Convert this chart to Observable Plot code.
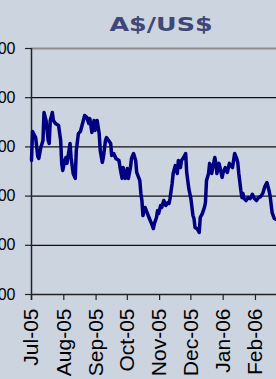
<!DOCTYPE html>
<html><head><meta charset="utf-8">
<script src="https://cdn.jsdelivr.net/npm/d3@7"></script>
<script src="https://cdn.jsdelivr.net/npm/@observablehq/plot@0.6"></script>
<style>
html,body{margin:0;padding:0;width:276px;height:379px;overflow:hidden;background:#ccd4e0;}
#title{position:absolute;top:15px;left:161px;transform:translateX(-50%) scaleX(1.27);font:bold 20px "DejaVu Sans",sans-serif;line-height:19px;color:#3f4779;white-space:nowrap;}
#chart{position:absolute;left:-40px;top:0;width:346px;height:379px;}
#chart svg{max-width:none !important;display:block;}
</style></head><body>
<div id="title">A$/US$</div>
<div id="chart"></div>
<script>
const dates = [
"2005-07-01","2005-07-02","2005-07-03","2005-07-05","2005-07-07","2005-07-08","2005-07-10","2005-07-12","2005-07-13","2005-07-15","2005-07-17","2005-07-18","2005-07-19","2005-07-21","2005-07-22","2005-07-24","2005-07-27","2005-07-29","2005-07-30","2005-07-31",
"2005-08-02","2005-08-03","2005-08-04","2005-08-06","2005-08-07","2005-08-08","2005-08-10","2005-08-12","2005-08-13","2005-08-15","2005-08-17","2005-08-18","2005-08-21","2005-08-23","2005-08-25","2005-08-26","2005-08-28","2005-08-30","2005-08-31",
"2005-09-02","2005-09-04","2005-09-05","2005-09-07","2005-09-08","2005-09-10","2005-09-11","2005-09-13","2005-09-15","2005-09-16","2005-09-18","2005-09-20","2005-09-23","2005-09-24","2005-09-26","2005-09-27","2005-09-29",
"2005-10-01","2005-10-02","2005-10-04","2005-10-05","2005-10-07","2005-10-09","2005-10-10","2005-10-13","2005-10-14","2005-10-15","2005-10-16","2005-10-18","2005-10-20","2005-10-21","2005-10-23","2005-10-25","2005-10-26","2005-10-27","2005-10-29","2005-10-30","2005-10-31",
"2005-11-02","2005-11-03","2005-11-05","2005-11-07","2005-11-09","2005-11-10","2005-11-11","2005-11-13","2005-11-14","2005-11-16","2005-11-18","2005-11-19","2005-11-21","2005-11-22","2005-11-24","2005-11-26","2005-11-27","2005-11-29",
"2005-12-01","2005-12-03","2005-12-04","2005-12-05","2005-12-07","2005-12-09","2005-12-10","2005-12-12","2005-12-14","2005-12-15","2005-12-16","2005-12-18","2005-12-19","2005-12-21","2005-12-22","2005-12-24","2005-12-25","2005-12-26","2005-12-28","2005-12-29","2005-12-31",
"2006-01-01","2006-01-03","2006-01-05","2006-01-07","2006-01-08","2006-01-10","2006-01-11","2006-01-12","2006-01-14","2006-01-15","2006-01-16","2006-01-18","2006-01-19","2006-01-20","2006-01-21","2006-01-23","2006-01-25","2006-01-27","2006-01-29","2006-01-31",
"2006-02-02","2006-02-04","2006-02-06","2006-02-08","2006-02-10","2006-02-12","2006-02-14","2006-02-15","2006-02-17","2006-02-19","2006-02-21","2006-02-23"
];
const rates = [
0.7545,0.7663,0.7654,0.7638,0.7561,0.7553,0.7598,0.7626,0.7740,0.7707,0.7626,0.7614,0.7707,0.7740,0.7707,0.7695,0.7687,0.7626,0.7533,0.7504,
0.7545,0.7557,0.7533,0.7585,0.7614,0.7557,0.7492,0.7472,0.7585,0.7654,0.7663,0.7679,0.7728,0.7720,0.7695,0.7715,0.7659,0.7707,0.7667,
0.7707,0.7654,0.7585,0.7537,0.7557,0.7626,0.7638,0.7626,0.7614,0.7565,0.7573,0.7553,0.7545,0.7516,0.7472,0.7516,0.7472,
0.7512,0.7472,0.7516,0.7553,0.7573,0.7545,0.7496,0.7463,0.7411,0.7382,0.7321,0.7354,0.7333,0.7321,0.7301,0.7280,0.7268,0.7289,0.7313,0.7341,0.7329,
0.7362,0.7354,0.7382,0.7362,0.7374,0.7370,0.7390,0.7451,0.7492,0.7524,0.7492,0.7545,0.7516,0.7545,0.7557,0.7573,0.7496,0.7431,
0.7390,0.7321,0.7309,0.7272,0.7268,0.7252,0.7313,0.7329,0.7354,0.7374,0.7463,0.7492,0.7533,0.7492,0.7516,0.7557,0.7533,0.7492,0.7533,0.7516,0.7476,
0.7496,0.7516,0.7496,0.7533,0.7524,0.7516,0.7545,0.7573,0.7553,0.7537,0.7492,0.7423,0.7394,0.7411,0.7390,0.7382,0.7394,0.7390,0.7407,0.7390,
0.7382,0.7394,0.7398,0.7411,0.7439,0.7455,0.7423,0.7402,0.7333,0.7309,0.7305,0.7301
];
const monthTicks = ["2005-07-01","2005-08-01","2005-09-01","2005-10-01","2005-11-01","2005-12-01","2006-01-01","2006-02-01"];
const monthLabels = ["Jul-05","Aug-05","Sep-05","Oct-05","Nov-05","Dec-05","Jan-06","Feb-06"];
const yTicks = [0.70,0.72,0.74,0.76,0.78,0.80];
const yLabels = ["0.7000","0.7200","0.7400","0.7600","0.7800","0.8000"];

const parse = d3.utcParse("%Y-%m-%d");
const data = dates.map((d, i) => ({date: parse(d), rate: rates[i]}));
const tickDates = monthTicks.map(parse);
const x0 = parse("2005-07-01");
const x1 = parse("2006-03-22");

const chart = Plot.plot({
  width: 346, height: 379,
  marginLeft: 71, marginRight: 0, marginTop: 48, marginBottom: 85,
  style: {background: "transparent", overflow: "visible", maxWidth: "none"},
  x: {type: "utc", domain: [x0, x1], axis: null},
  y: {domain: [0.70, 0.80], axis: null},
  marks: [
    Plot.ruleY(yTicks.slice(1, -1), {stroke: "#111", strokeWidth: 1.2}),
    Plot.ruleY([0.80], {stroke: "#8c8c8c", strokeWidth: 2}),
    Plot.ruleY([0.70], {stroke: "#222", strokeWidth: 1.5}),
    Plot.ruleX([0], {x: () => x0, y1: 0.80, y2: 0.70, stroke: "#222", strokeWidth: 1.5, insetBottom: -6}),
    Plot.ruleY(yTicks, {x1: () => x0, x2: () => x0, y: d => d, insetLeft: -6, stroke: "#222", strokeWidth: 1.2}),
    Plot.text(yTicks, {x: () => x0, y: d => d, text: (d, i) => yLabels[i], textAnchor: "end", dx: -16, fontSize: 16, fontFamily: "Liberation Sans", fill: "#000"}),
    Plot.ruleX(tickDates, {x: d => d, y1: 0.70, y2: 0.70, insetBottom: -6, stroke: "#222", strokeWidth: 1.2}),
    Plot.text(tickDates, {x: d => d, y: 0.70, text: (d, i) => monthLabels[i], rotate: -90, textAnchor: "end", dy: 14, fontSize: 21, fontFamily: "Liberation Sans", fill: "#000"}),
    Plot.line(data, {x: "date", y: "rate", stroke: "#000080", strokeWidth: 3.5, strokeLinejoin: "round"})
  ]
});
document.getElementById("chart").appendChild(chart);
</script></body></html>
